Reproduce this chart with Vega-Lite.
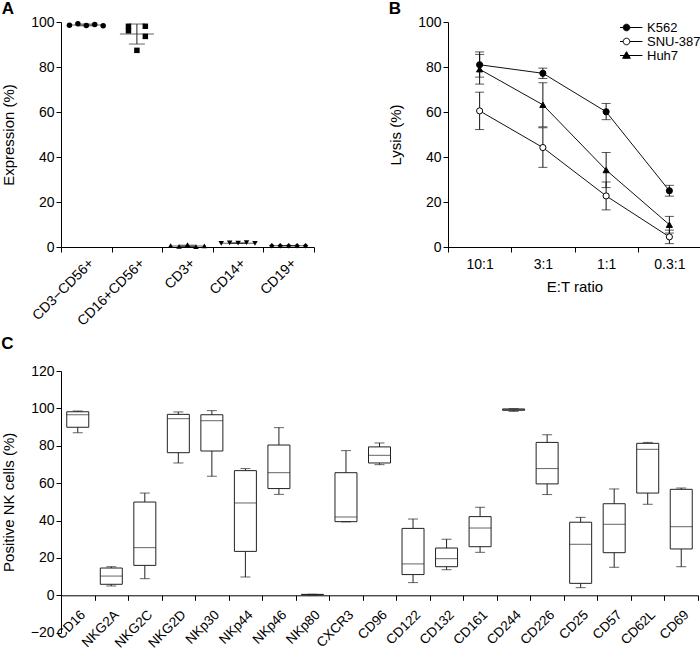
{
  "$schema": "https://vega.github.io/schema/vega-lite/v6.json",
  "padding": {"left": 1, "top": 0, "right": 0, "bottom": 20},
  "background": "white",
  "config": {
    "font": "Liberation Sans",
    "view": {"stroke": null},
    "axis": {"grid": false, "labelOverlap": false, "domainColor": "#000", "tickColor": "#000", "labelColor": "#000", "titleColor": "#000", "labelFontSize": 14, "titleFontSize": 15, "titleFontWeight": "normal", "tickSize": 5, "labelFont": "Liberation Sans", "titleFont": "Liberation Sans", "domainWidth": 1, "tickWidth": 1},
    "title": {"fontSize": 17, "fontWeight": "bold", "anchor": "start", "frame": "bounds", "font": "Liberation Sans", "color": "#000"},
    "legend": {"labelFont": "Liberation Sans", "labelColor": "#000"}
  },
  "datasets": {
    "ptsA": [
      {"cell": "CD3−CD56+", "col": "1", "value": 98.6},
      {"cell": "CD3−CD56+", "col": "2", "value": 99.2},
      {"cell": "CD3−CD56+", "col": "3", "value": 98.4},
      {"cell": "CD3−CD56+", "col": "4", "value": 98.9},
      {"cell": "CD3−CD56+", "col": "5", "value": 98.3},
      {"cell": "CD16+CD56+", "col": "2", "value": 96.1},
      {"cell": "CD16+CD56+", "col": "4", "value": 98.1},
      {"cell": "CD16+CD56+", "col": "2", "value": 98.1},
      {"cell": "CD16+CD56+", "col": "4", "value": 93.6},
      {"cell": "CD16+CD56+", "col": "3", "value": 87.4},
      {"cell": "CD3+", "col": "1", "value": 0.6},
      {"cell": "CD3+", "col": "2", "value": 0.3},
      {"cell": "CD3+", "col": "3", "value": 1.1},
      {"cell": "CD3+", "col": "4", "value": 0.2},
      {"cell": "CD3+", "col": "5", "value": 0.5},
      {"cell": "CD14+", "col": "1", "value": 1.6},
      {"cell": "CD14+", "col": "2", "value": 1.8},
      {"cell": "CD14+", "col": "3", "value": 1.7},
      {"cell": "CD14+", "col": "4", "value": 1.9},
      {"cell": "CD14+", "col": "5", "value": 1.6},
      {"cell": "CD19+", "col": "1", "value": 0.6},
      {"cell": "CD19+", "col": "2", "value": 0.6},
      {"cell": "CD19+", "col": "3", "value": 0.6},
      {"cell": "CD19+", "col": "4", "value": 0.6},
      {"cell": "CD19+", "col": "5", "value": 0.6}
    ],
    "sumA": [
      {"cell": "CD3−CD56+", "mean": 98.7, "lo": 98.3, "hi": 99.1},
      {"cell": "CD16+CD56+", "mean": 94.7, "lo": 90.2, "hi": 99.1},
      {"cell": "CD3+", "mean": 0.5, "lo": 0.2, "hi": 0.8},
      {"cell": "CD14+", "mean": 1.7, "lo": 1.6, "hi": 1.8},
      {"cell": "CD19+", "mean": 0.6, "lo": 0.6, "hi": 0.6}
    ],
    "lysis": [
      {"line": "K562", "ratio": "10:1", "mean": 81.0, "lo": 75.5, "hi": 86.7},
      {"line": "K562", "ratio": "3:1", "mean": 77.2, "lo": 74.9, "hi": 79.5},
      {"line": "K562", "ratio": "1:1", "mean": 60.1, "lo": 56.6, "hi": 63.8},
      {"line": "K562", "ratio": "0.3:1", "mean": 25.0, "lo": 22.6, "hi": 27.4},
      {"line": "SNU-387", "ratio": "10:1", "mean": 60.5, "lo": 52.2, "hi": 68.8},
      {"line": "SNU-387", "ratio": "3:1", "mean": 44.2, "lo": 35.4, "hi": 53.0},
      {"line": "SNU-387", "ratio": "1:1", "mean": 22.7, "lo": 16.5, "hi": 28.9},
      {"line": "SNU-387", "ratio": "0.3:1", "mean": 4.5, "lo": 1.5, "hi": 7.5},
      {"line": "Huh7", "ratio": "10:1", "mean": 79.0, "lo": 72.4, "hi": 85.6},
      {"line": "Huh7", "ratio": "3:1", "mean": 63.2, "lo": 53.4, "hi": 73.0},
      {"line": "Huh7", "ratio": "1:1", "mean": 34.2, "lo": 26.4, "hi": 42.0},
      {"line": "Huh7", "ratio": "0.3:1", "mean": 9.9, "lo": 6.2, "hi": 13.6}
    ],
    "boxC": [
      {"marker": "CD16", "min": 87.0, "q1": 89.9, "median": 96.6, "q3": 98.2, "max": 98.6},
      {"marker": "NKG2A", "min": 5.0, "q1": 5.9, "median": 10.3, "q3": 14.6, "max": 15.3},
      {"marker": "NKG2C", "min": 8.9, "q1": 16.0, "median": 25.5, "q3": 49.9, "max": 54.7},
      {"marker": "NKG2D", "min": 70.8, "q1": 76.3, "median": 94.5, "q3": 96.8, "max": 98.1},
      {"marker": "NKp30", "min": 63.7, "q1": 77.2, "median": 93.4, "q3": 96.6, "max": 98.8},
      {"marker": "NKp44", "min": 9.8, "q1": 23.5, "median": 49.4, "q3": 66.7, "max": 67.8},
      {"marker": "NKp46", "min": 54.0, "q1": 57.1, "median": 65.6, "q3": 80.4, "max": 89.7},
      {"marker": "NKp80", "min": 0.2, "q1": 0.3, "median": 0.4, "q3": 0.5, "max": 0.6},
      {"marker": "CXCR3", "min": 39.3, "q1": 39.4, "median": 41.9, "q3": 65.6, "max": 77.4},
      {"marker": "CD96", "min": 69.9, "q1": 70.8, "median": 74.9, "q3": 79.4, "max": 81.5},
      {"marker": "CD122", "min": 6.8, "q1": 11.1, "median": 16.8, "q3": 35.8, "max": 40.8},
      {"marker": "CD132", "min": 13.7, "q1": 15.3, "median": 19.6, "q3": 25.3, "max": 30.0},
      {"marker": "CD161", "min": 23.0, "q1": 26.0, "median": 36.0, "q3": 42.1, "max": 47.1},
      {"marker": "CD244", "min": 98.4, "q1": 99.0, "median": 99.3, "q3": 99.7, "max": 99.8},
      {"marker": "CD226", "min": 53.9, "q1": 59.6, "median": 67.8, "q3": 81.8, "max": 85.9},
      {"marker": "CD25", "min": 4.1, "q1": 6.4, "median": 27.3, "q3": 39.1, "max": 41.7},
      {"marker": "CD57", "min": 15.0, "q1": 22.8, "median": 38.0, "q3": 49.0, "max": 56.9},
      {"marker": "CD62L", "min": 48.7, "q1": 54.7, "median": 78.1, "q3": 81.3, "max": 81.8},
      {"marker": "CD69", "min": 15.3, "q1": 24.8, "median": 36.7, "q3": 56.7, "max": 57.4}
    ]
  },
  "spacing": 6,
  "resolve": {"scale": {"shape": "independent", "fill": "independent"}, "legend": {"shape": "independent", "fill": "independent"}},
  "vconcat": [
    {
      "spacing": 73,
      "resolve": {"scale": {"shape": "independent", "fill": "independent"}, "legend": {"shape": "independent", "fill": "independent"}},
      "hconcat": [
        {
          "title": {"text": "A", "offset": -3.3},
          "width": 253,
          "height": 225,
          "encoding": {
            "x": {"field": "cell", "type": "nominal", "sort": ["CD3−CD56+", "CD16+CD56+", "CD3+", "CD14+", "CD19+"], "scale": {"type": "band", "paddingInner": 0, "paddingOuter": 0}, "axis": {"title": null, "labelAngle": -45, "tickBand": "extent", "labelPadding": 4}}
          },
          "layer": [
            {"data": {"name": "sumA"}, "mark": {"type": "rule", "color": "#222", "strokeWidth": 1},
             "encoding": {"y": {"field": "lo", "type": "quantitative", "scale": {"domain": [0, 100]}, "axis": {"title": "Expression (%)", "values": [0, 20, 40, 60, 80, 100], "titlePadding": 14}}, "y2": {"field": "hi"}}},
            {"data": {"name": "sumA"}, "mark": {"type": "tick", "color": "#222", "size": 16, "thickness": 1},
             "encoding": {"y": {"field": "lo", "type": "quantitative", "axis": {"title": "Expression (%)", "values": [0, 20, 40, 60, 80, 100], "titlePadding": 14}}}},
            {"data": {"name": "sumA"}, "mark": {"type": "tick", "color": "#222", "size": 16, "thickness": 1},
             "encoding": {"y": {"field": "hi", "type": "quantitative", "axis": {"title": "Expression (%)", "values": [0, 20, 40, 60, 80, 100], "titlePadding": 14}}}},
            {"data": {"name": "sumA"}, "mark": {"type": "tick", "color": "#222", "size": 34, "thickness": 1},
             "encoding": {"y": {"field": "mean", "type": "quantitative", "axis": {"title": "Expression (%)", "values": [0, 20, 40, 60, 80, 100], "titlePadding": 14}}}},
            {"data": {"name": "ptsA"}, "mark": {"type": "point", "filled": true, "color": "#000", "size": 30, "opacity": 1},
             "encoding": {
               "xOffset": {"field": "col", "type": "nominal", "scale": {"type": "point", "padding": 3.6}},
               "y": {"field": "value", "type": "quantitative", "axis": {"title": "Expression (%)", "values": [0, 20, 40, 60, 80, 100], "titlePadding": 14}},
               "shape": {"field": "cell", "type": "nominal", "scale": {"domain": ["CD3−CD56+", "CD16+CD56+", "CD3+", "CD14+", "CD19+"], "range": ["circle", "square", "triangle-up", "triangle-down", "diamond"]}, "legend": null}
             }}
          ]
        },
        {
          "title": {"text": "B", "offset": -3.3},
          "width": 253,
          "height": 225,
          "data": {"name": "lysis"},
          "encoding": {
            "x": {"field": "ratio", "type": "nominal", "sort": ["10:1", "3:1", "1:1", "0.3:1"], "scale": {"type": "band", "paddingInner": 0, "paddingOuter": 0}, "axis": {"title": "E:T ratio", "labelAngle": 0, "tickBand": "extent", "labelPadding": 5, "titlePadding": 8}}
          },
          "layer": [
            {"mark": {"type": "line", "color": "#111", "strokeWidth": 1},
             "encoding": {"y": {"field": "mean", "type": "quantitative", "scale": {"domain": [0, 100]}, "axis": {"title": "Lysis (%)", "values": [0, 20, 40, 60, 80, 100], "titlePadding": 14}}, "detail": {"field": "line"}}},
            {"mark": {"type": "rule", "color": "#111", "strokeWidth": 1},
             "encoding": {"y": {"field": "lo", "type": "quantitative", "axis": {"title": "Lysis (%)", "values": [0, 20, 40, 60, 80, 100], "titlePadding": 14}}, "y2": {"field": "hi"}}},
            {"mark": {"type": "tick", "color": "#111", "size": 9, "thickness": 1},
             "encoding": {"y": {"field": "lo", "type": "quantitative", "axis": {"title": "Lysis (%)", "values": [0, 20, 40, 60, 80, 100], "titlePadding": 14}}}},
            {"mark": {"type": "tick", "color": "#111", "size": 9, "thickness": 1},
             "encoding": {"y": {"field": "hi", "type": "quantitative", "axis": {"title": "Lysis (%)", "values": [0, 20, 40, 60, 80, 100], "titlePadding": 14}}}},
            {"mark": {"type": "point", "filled": true, "stroke": "#000", "strokeWidth": 1, "size": 38, "opacity": 1},
             "encoding": {
               "y": {"field": "mean", "type": "quantitative", "axis": {"title": "Lysis (%)", "values": [0, 20, 40, 60, 80, 100], "titlePadding": 14}},
               "shape": {"condition": {"test": "datum.line === 'Huh7'", "value": "triangle-up"}, "value": "circle"},
               "fill": {"condition": {"test": "datum.line === 'SNU-387'", "value": "#fff"}, "value": "#000"}
             }},
            {"mark": {"type": "point", "filled": true, "stroke": "#000", "strokeWidth": 1, "opacity": 0},
             "encoding": {
               "y": {"field": "mean", "type": "quantitative", "axis": {"title": "Lysis (%)", "values": [0, 20, 40, 60, 80, 100], "titlePadding": 14}},
               "shape": {"field": "line", "type": "nominal",
                 "scale": {"domain": ["K562", "SNU-387", "Huh7"], "range": [
                   "M-2.9,0L-0.6,0M0.6,0L2.9,0M0.6,0A0.6,0.6,0,1,1,-0.6,0A0.6,0.6,0,1,1,0.6,0Z",
                   "M-2.9,0L-0.6,0M0.6,0L2.9,0M0.6,0A0.6,0.6,0,1,1,-0.6,0A0.6,0.6,0,1,1,0.6,0Z",
                   "M-2.9,0L2.9,0M0,-0.7L0.7,0.5L-0.7,0.5Z"]},
                 "legend": {"title": null, "orient": "top-right", "offset": 0, "symbolSize": 121, "labelFontSize": 13, "labelOffset": 14, "rowPadding": 0, "clipHeight": 11, "symbolStrokeColor": "#000", "symbolStrokeWidth": 1, "symbolOpacity": 1,
                   "encode": {"symbols": {"update": {"opacity": {"value": 1}, "stroke": {"value": "#000"}, "strokeWidth": {"value": 1}}}}}},
               "fill": {"field": "line", "type": "nominal",
                 "scale": {"domain": ["K562", "SNU-387", "Huh7"], "range": ["#000", "#fff", "#000"]},
                 "legend": {"title": null, "orient": "top-right", "offset": 0, "symbolSize": 121, "labelFontSize": 13, "labelOffset": 14, "rowPadding": 0, "clipHeight": 11, "symbolStrokeColor": "#000", "symbolStrokeWidth": 1, "symbolOpacity": 1,
                   "encode": {"symbols": {"update": {"opacity": {"value": 1}, "stroke": {"value": "#000"}, "strokeWidth": {"value": 1}}}}}}
             }}
          ]
        }
      ]
    },
    {
      "title": {"text": "C", "offset": 11},
      "width": 637,
      "height": 261.7,
      "data": {"name": "boxC"},
      "encoding": {
        "x": {"field": "marker", "type": "nominal", "sort": null, "scale": {"type": "band", "paddingInner": 0, "paddingOuter": 0}, "axis": {"title": null, "labelAngle": -45, "tickBand": "extent", "offset": -37.4, "labelPadding": 7, "labelFontSize": 13.5}}
      },
      "layer": [
        {"mark": {"type": "rule", "color": "#222", "strokeWidth": 1},
         "encoding": {"y": {"field": "min", "type": "quantitative", "scale": {"domain": [-20, 120]}, "axis": {"title": "Positive NK cells (%)", "values": [-20, 0, 20, 40, 60, 80, 100, 120], "titlePadding": 14}}, "y2": {"field": "max"}}},
        {"mark": {"type": "bar", "fill": "#fff", "stroke": "#222", "strokeWidth": 1, "size": 22},
         "encoding": {"y": {"field": "q1", "type": "quantitative", "axis": {"title": "Positive NK cells (%)", "values": [-20, 0, 20, 40, 60, 80, 100, 120], "titlePadding": 14}}, "y2": {"field": "q3"}}},
        {"mark": {"type": "tick", "color": "#222", "size": 22, "thickness": 1},
         "encoding": {"y": {"field": "median", "type": "quantitative", "axis": {"title": "Positive NK cells (%)", "values": [-20, 0, 20, 40, 60, 80, 100, 120], "titlePadding": 14}}}},
        {"mark": {"type": "tick", "color": "#222", "size": 10, "thickness": 1},
         "encoding": {"y": {"field": "min", "type": "quantitative", "axis": {"title": "Positive NK cells (%)", "values": [-20, 0, 20, 40, 60, 80, 100, 120], "titlePadding": 14}}}},
        {"mark": {"type": "tick", "color": "#222", "size": 10, "thickness": 1},
         "encoding": {"y": {"field": "max", "type": "quantitative", "axis": {"title": "Positive NK cells (%)", "values": [-20, 0, 20, 40, 60, 80, 100, 120], "titlePadding": 14}}}}
      ]
    }
  ]
}
